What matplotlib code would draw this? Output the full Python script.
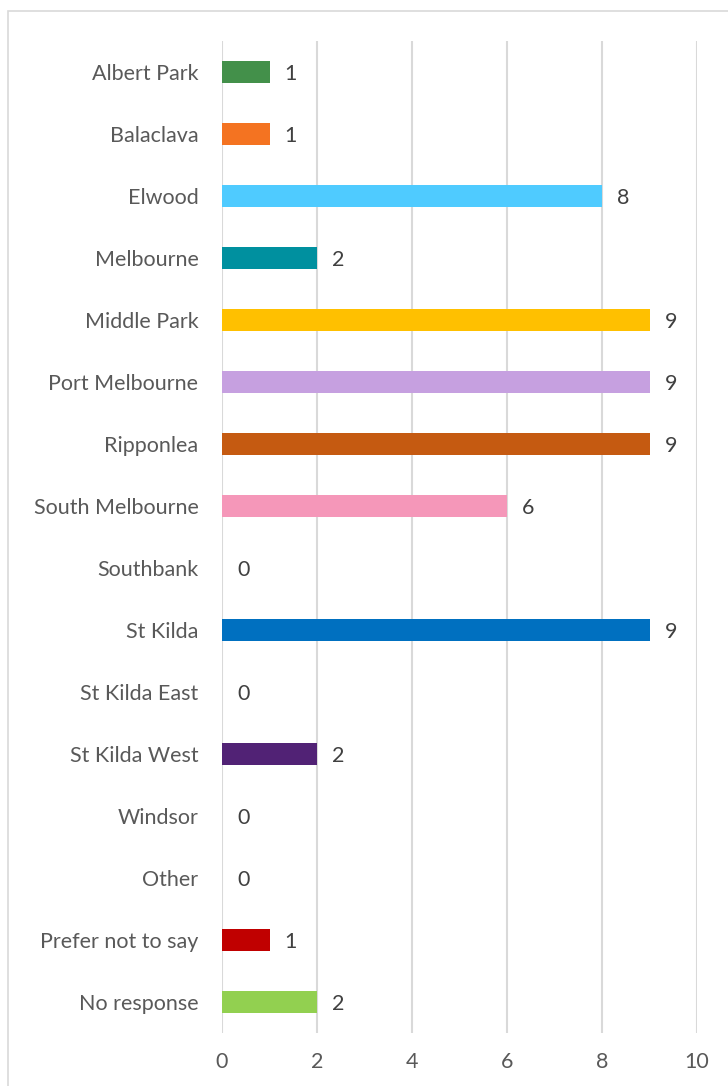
import matplotlib
matplotlib.use("Agg")
import matplotlib.pyplot as plt
from matplotlib.patches import Rectangle

categories = ["Albert Park", "Balaclava", "Elwood", "Melbourne", "Middle Park",
              "Port Melbourne", "Ripponlea", "South Melbourne", "Southbank",
              "St Kilda", "St Kilda East", "St Kilda West", "Windsor", "Other",
              "Prefer not to say", "No response"]
values = [1, 1, 8, 2, 9, 9, 9, 6, 0, 9, 0, 2, 0, 0, 1, 2]
colors = ["#43904A", "#F47321", "#4FCBFF", "#00909F", "#FFC000", "#C6A0E0",
          "#C55A11", "#F597B9", "#A5A5A5", "#0070C0", "#A5A5A5", "#512275",
          "#A5A5A5", "#A5A5A5", "#C00000", "#92D050"]
xticks = [0, 2, 4, 6, 8, 10]

plt.rcParams['font.family'] = ['Lato', 'DejaVu Sans']
fig = plt.figure(figsize=(7.28, 10.86), dpi=100)
fig.patches.append(Rectangle((8/728, -0.01), 1.0, 1 - 11/1086 + 0.01,
                             transform=fig.transFigure, fill=False,
                             edgecolor="#D9D9D9", linewidth=1.2))
ax = fig.add_axes([222/728, 1 - 1033/1086, (697-222)/728, (1033-41)/1086])

y = list(range(len(categories)))
ax.barh(y, values, height=0.36, color=colors, zorder=3)
for yi, v in zip(y, values):
    ax.annotate(str(v), (v, yi), xytext=(11, -1.5), textcoords="offset points",
                va="center", ha="left", fontsize=15.5, color="#404040")

ax.set_xlim(0, 10)
ax.set_ylim(len(categories) - 0.5, -0.5)
ax.set_yticks(y)
ax.set_yticklabels(categories, fontsize=15.5, color="#595959")
ax.set_xticks(xticks)
ax.set_xticklabels([str(t) for t in xticks], fontsize=15.5, color="#595959")
ax.tick_params(axis="both", length=0)
ax.tick_params(axis="y", pad=17)
ax.tick_params(axis="x", pad=14)
ax.grid(axis="x", color="#D9D9D9", linewidth=1.5, zorder=0)
for s in ax.spines.values():
    s.set_visible(False)

fig.savefig("out.png", dpi=100)
